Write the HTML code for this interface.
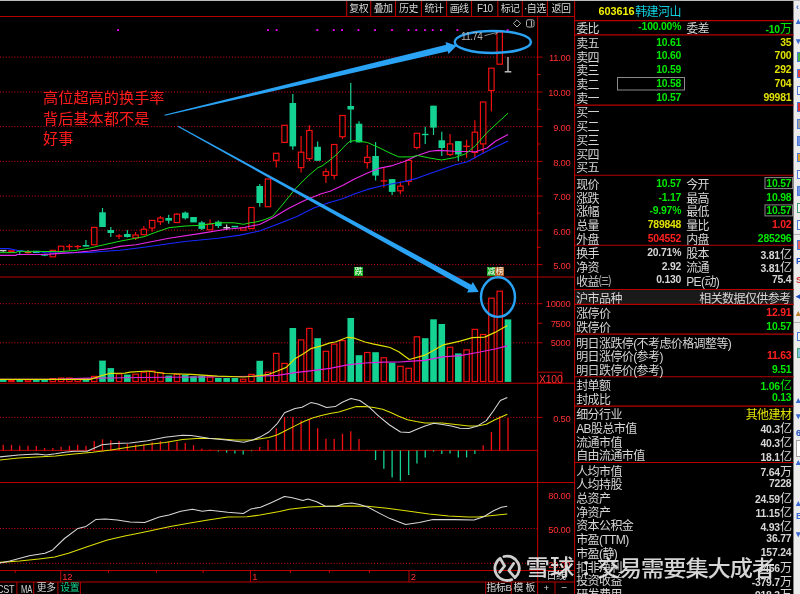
<!DOCTYPE html>
<html><head><meta charset="utf-8"><style>
html,body{margin:0;padding:0;background:#000;width:800px;height:594px;overflow:hidden}
body{position:relative;font-family:"Liberation Sans","Noto Sans CJK SC",sans-serif}
.t{position:absolute;white-space:nowrap;line-height:1.2;font-family:"Liberation Sans","Noto Sans CJK SC",sans-serif;letter-spacing:-0.6px}
.n{letter-spacing:0}
.c{text-align:center}
</style></head><body>
<svg width="800" height="594" viewBox="0 0 800 594" style="position:absolute;left:0;top:0"><rect x="0" y="0" width="800" height="1" fill="#bcbcbc" stroke="none" stroke-width="1" />
<rect x="793.5" y="1" width="6.5" height="593" fill="#ececec" stroke="none" stroke-width="1" />
<line x1="793.5" y1="1" x2="793.5" y2="594" stroke="#8a8a8a" stroke-width="0.8" />
<line x1="0" y1="57.1" x2="537.5" y2="57.1" stroke="#d8001a" stroke-width="1" stroke-dasharray="1 1.9"/>
<line x1="0" y1="92" x2="537.5" y2="92" stroke="#d8001a" stroke-width="1" stroke-dasharray="1 1.9"/>
<line x1="0" y1="126.6" x2="537.5" y2="126.6" stroke="#d8001a" stroke-width="1" stroke-dasharray="1 1.9"/>
<line x1="0" y1="161.4" x2="537.5" y2="161.4" stroke="#d8001a" stroke-width="1" stroke-dasharray="1 1.9"/>
<line x1="0" y1="196.1" x2="537.5" y2="196.1" stroke="#d8001a" stroke-width="1" stroke-dasharray="1 1.9"/>
<line x1="0" y1="230.2" x2="537.5" y2="230.2" stroke="#d8001a" stroke-width="1" stroke-dasharray="1 1.9"/>
<line x1="0" y1="264.6" x2="537.5" y2="264.6" stroke="#d8001a" stroke-width="1" stroke-dasharray="1 1.9"/>
<line x1="0" y1="303.7" x2="537.5" y2="303.7" stroke="#d8001a" stroke-width="1" stroke-dasharray="1 1.9"/>
<line x1="0" y1="342.8" x2="537.5" y2="342.8" stroke="#d8001a" stroke-width="1" stroke-dasharray="1 1.9"/>
<line x1="0" y1="417.4" x2="537.5" y2="417.4" stroke="#d8001a" stroke-width="1" stroke-dasharray="1 1.9"/>
<line x1="0" y1="528.5" x2="537.5" y2="528.5" stroke="#d8001a" stroke-width="1" stroke-dasharray="1 1.9"/>
<line x1="0" y1="563.3" x2="537.5" y2="563.3" stroke="#d8001a" stroke-width="1" stroke-dasharray="1 1.9"/>
<line x1="0" y1="16.5" x2="574.6" y2="16.5" stroke="#b80000" stroke-width="1.1" />
<line x1="0" y1="277" x2="574.6" y2="277" stroke="#b80000" stroke-width="1.1" />
<line x1="0" y1="383.3" x2="574.6" y2="383.3" stroke="#b80000" stroke-width="1.1" />
<line x1="0" y1="482.5" x2="574.6" y2="482.5" stroke="#b80000" stroke-width="1.1" />
<line x1="0" y1="570.5" x2="574.6" y2="570.5" stroke="#b80000" stroke-width="1.1" />
<line x1="0" y1="582" x2="574.6" y2="582" stroke="#b80000" stroke-width="1.1" />
<line x1="0" y1="450.4" x2="537.5" y2="450.4" stroke="#b80000" stroke-width="1" />
<line x1="537.6" y1="16.5" x2="537.6" y2="594" stroke="#b80000" stroke-width="1.1" />
<line x1="574.6" y1="1" x2="574.6" y2="594" stroke="#b80000" stroke-width="1.1" />
<line x1="346.7" y1="1" x2="346.7" y2="16.5" stroke="#b80000" stroke-width="1.1" />
<line x1="370.7" y1="1" x2="370.7" y2="16.5" stroke="#b80000" stroke-width="1.1" />
<line x1="395.5" y1="1" x2="395.5" y2="16.5" stroke="#b80000" stroke-width="1.1" />
<line x1="421.4" y1="1" x2="421.4" y2="16.5" stroke="#b80000" stroke-width="1.1" />
<line x1="446.6" y1="1" x2="446.6" y2="16.5" stroke="#b80000" stroke-width="1.1" />
<line x1="471.5" y1="1" x2="471.5" y2="16.5" stroke="#b80000" stroke-width="1.1" />
<line x1="497.8" y1="1" x2="497.8" y2="16.5" stroke="#b80000" stroke-width="1.1" />
<line x1="522.3" y1="1" x2="522.3" y2="16.5" stroke="#b80000" stroke-width="1.1" />
<line x1="547.4" y1="1" x2="547.4" y2="16.5" stroke="#b80000" stroke-width="1.1" />
<line x1="537.6" y1="57.1" x2="542.5" y2="57.1" stroke="#b80000" stroke-width="1" />
<line x1="537.6" y1="92" x2="542.5" y2="92" stroke="#b80000" stroke-width="1" />
<line x1="537.6" y1="126.6" x2="542.5" y2="126.6" stroke="#b80000" stroke-width="1" />
<line x1="537.6" y1="161.4" x2="542.5" y2="161.4" stroke="#b80000" stroke-width="1" />
<line x1="537.6" y1="196.1" x2="542.5" y2="196.1" stroke="#b80000" stroke-width="1" />
<line x1="537.6" y1="230.2" x2="542.5" y2="230.2" stroke="#b80000" stroke-width="1" />
<line x1="537.6" y1="264.6" x2="542.5" y2="264.6" stroke="#b80000" stroke-width="1" />
<line x1="537.6" y1="74.5" x2="540.5" y2="74.5" stroke="#b80000" stroke-width="1" />
<line x1="537.6" y1="109.3" x2="540.5" y2="109.3" stroke="#b80000" stroke-width="1" />
<line x1="537.6" y1="144" x2="540.5" y2="144" stroke="#b80000" stroke-width="1" />
<line x1="537.6" y1="178.7" x2="540.5" y2="178.7" stroke="#b80000" stroke-width="1" />
<line x1="537.6" y1="213.1" x2="540.5" y2="213.1" stroke="#b80000" stroke-width="1" />
<line x1="537.6" y1="247.4" x2="540.5" y2="247.4" stroke="#b80000" stroke-width="1" />
<line x1="537.6" y1="303.7" x2="542.5" y2="303.7" stroke="#b80000" stroke-width="1" />
<line x1="537.6" y1="323.2" x2="542.5" y2="323.2" stroke="#b80000" stroke-width="1" />
<line x1="537.6" y1="342.8" x2="542.5" y2="342.8" stroke="#b80000" stroke-width="1" />
<line x1="537.6" y1="417.4" x2="542.5" y2="417.4" stroke="#b80000" stroke-width="1" />
<rect x="537.6" y="372.2" width="24.2" height="11" fill="none" stroke="#b80000" stroke-width="1" />
<line x1="15.2" y1="570.5" x2="15.2" y2="573" stroke="#b80000" stroke-width="1" />
<line x1="108.4" y1="570.5" x2="108.4" y2="573" stroke="#b80000" stroke-width="1" />
<line x1="156.4" y1="570.5" x2="156.4" y2="573" stroke="#b80000" stroke-width="1" />
<line x1="203.2" y1="570.5" x2="203.2" y2="573" stroke="#b80000" stroke-width="1" />
<line x1="290.3" y1="570.5" x2="290.3" y2="573" stroke="#b80000" stroke-width="1" />
<line x1="329.3" y1="570.5" x2="329.3" y2="573" stroke="#b80000" stroke-width="1" />
<line x1="369.4" y1="570.5" x2="369.4" y2="573" stroke="#b80000" stroke-width="1" />
<line x1="60.7" y1="570.5" x2="60.7" y2="582" stroke="#b80000" stroke-width="1" />
<line x1="250.5" y1="570.5" x2="250.5" y2="582" stroke="#b80000" stroke-width="1" />
<line x1="409" y1="570.5" x2="409" y2="582" stroke="#b80000" stroke-width="1" />
<line x1="16.9" y1="582" x2="16.9" y2="594" stroke="#b80000" stroke-width="1" />
<line x1="33.7" y1="582" x2="33.7" y2="594" stroke="#b80000" stroke-width="1" />
<line x1="57.9" y1="582" x2="57.9" y2="594" stroke="#b80000" stroke-width="1" />
<line x1="80.4" y1="582" x2="80.4" y2="594" stroke="#b80000" stroke-width="1" />
<line x1="485.7" y1="582" x2="485.7" y2="594" stroke="#b80000" stroke-width="1" />
<line x1="511.3" y1="582" x2="511.3" y2="594" stroke="#b80000" stroke-width="1" />
<line x1="555" y1="582" x2="555" y2="594" stroke="#b80000" stroke-width="1" />
<line x1="3.2" y1="250.6" x2="3.2" y2="251.8" stroke="#d0d0d0" stroke-width="1.2" />
<line x1="-0.1" y1="250.6" x2="6.5" y2="250.6" stroke="#d0d0d0" stroke-width="1.4" />
<rect x="8.78" y="250.8" width="5.4" height="1.1" fill="#000" stroke="#f01010" stroke-width="1.2" />
<line x1="19.75" y1="250.4" x2="19.75" y2="254" stroke="#14d292" stroke-width="1.2" />
<rect x="16.45" y="250.4" width="6.6" height="1.2" fill="#14d292" stroke="none" stroke-width="1" />
<line x1="28.03" y1="250" x2="28.03" y2="253.2" stroke="#e05a20" stroke-width="1.2" />
<rect x="24.73" y="252" width="6.6" height="1.2" fill="#e05a20" stroke="none" stroke-width="1" />
<rect x="33" y="250.8" width="6.6" height="2.2" fill="#30b8e0" stroke="none" stroke-width="1" />
<line x1="44.58" y1="254.4" x2="44.58" y2="256.2" stroke="#14d292" stroke-width="1.2" />
<rect x="41.28" y="254.4" width="6.6" height="1.3" fill="#14d292" stroke="none" stroke-width="1" />
<rect x="50.15" y="250.4" width="5.4" height="6.4" fill="#000" stroke="#f01010" stroke-width="1.2" />
<rect x="58.43" y="246.2" width="5.4" height="5.6" fill="#000" stroke="#f01010" stroke-width="1.2" />
<line x1="69.4" y1="244" x2="69.4" y2="250" stroke="#f01010" stroke-width="1.2" />
<line x1="66.1" y1="246.5" x2="72.7" y2="246.5" stroke="#f01010" stroke-width="1.4" />
<line x1="77.68" y1="245" x2="77.68" y2="249" stroke="#f01010" stroke-width="1.2" />
<line x1="74.38" y1="246.5" x2="80.98" y2="246.5" stroke="#f01010" stroke-width="1.4" />
<line x1="85.95" y1="240" x2="85.95" y2="246.6" stroke="#14d292" stroke-width="1.2" />
<rect x="82.65" y="245" width="6.6" height="1.6" fill="#14d292" stroke="none" stroke-width="1" />
<rect x="91.53" y="227.4" width="5.4" height="17.4" fill="#000" stroke="#f01010" stroke-width="1.2" />
<line x1="102.5" y1="208" x2="102.5" y2="227" stroke="#14d292" stroke-width="1.2" />
<rect x="99.2" y="212.3" width="6.6" height="14.7" fill="#14d292" stroke="none" stroke-width="1" />
<line x1="110.78" y1="227" x2="110.78" y2="237" stroke="#14d292" stroke-width="1.2" />
<rect x="107.48" y="230" width="6.6" height="3" fill="#14d292" stroke="none" stroke-width="1" />
<line x1="119.05" y1="234" x2="119.05" y2="239" stroke="#f01010" stroke-width="1.2" />
<line x1="115.75" y1="236" x2="122.35" y2="236" stroke="#f01010" stroke-width="1.4" />
<line x1="127.33" y1="230" x2="127.33" y2="237.5" stroke="#14d292" stroke-width="1.2" />
<rect x="124.03" y="234" width="6.6" height="3" fill="#14d292" stroke="none" stroke-width="1" />
<line x1="135.6" y1="232" x2="135.6" y2="235" stroke="#f01010" stroke-width="1.2" />
<line x1="135.6" y1="238" x2="135.6" y2="240" stroke="#f01010" stroke-width="1.2" />
<rect x="132.9" y="235" width="5.4" height="3" fill="#000" stroke="#f01010" stroke-width="1.2" />
<line x1="143.88" y1="226" x2="143.88" y2="229.3" stroke="#f01010" stroke-width="1.2" />
<line x1="143.88" y1="234.7" x2="143.88" y2="235" stroke="#f01010" stroke-width="1.2" />
<rect x="141.17" y="229.3" width="5.4" height="5.4" fill="#000" stroke="#f01010" stroke-width="1.2" />
<line x1="152.15" y1="228" x2="152.15" y2="231.8" stroke="#f01010" stroke-width="1.2" />
<rect x="149.45" y="220.4" width="5.4" height="7.6" fill="#000" stroke="#f01010" stroke-width="1.2" />
<line x1="160.42" y1="216" x2="160.42" y2="218" stroke="#f01010" stroke-width="1.2" />
<line x1="160.42" y1="221.7" x2="160.42" y2="225" stroke="#f01010" stroke-width="1.2" />
<rect x="157.72" y="218" width="5.4" height="3.7" fill="#000" stroke="#f01010" stroke-width="1.2" />
<line x1="168.7" y1="214.7" x2="168.7" y2="223.7" stroke="#14d292" stroke-width="1.2" />
<rect x="165.4" y="218" width="6.6" height="2.7" fill="#14d292" stroke="none" stroke-width="1" />
<line x1="176.97" y1="213" x2="176.97" y2="214.2" stroke="#f01010" stroke-width="1.2" />
<rect x="174.27" y="214.2" width="5.4" height="8.3" fill="#000" stroke="#f01010" stroke-width="1.2" />
<line x1="185.25" y1="211.5" x2="185.25" y2="219.6" stroke="#14d292" stroke-width="1.2" />
<rect x="181.95" y="212.6" width="6.6" height="5.7" fill="#14d292" stroke="none" stroke-width="1" />
<rect x="190.22" y="217" width="6.6" height="5.4" fill="#14d292" stroke="none" stroke-width="1" />
<line x1="201.8" y1="221" x2="201.8" y2="230" stroke="#14d292" stroke-width="1.2" />
<rect x="198.5" y="222.4" width="6.6" height="6.5" fill="#14d292" stroke="none" stroke-width="1" />
<line x1="210.07" y1="219.6" x2="210.07" y2="224" stroke="#f01010" stroke-width="1.2" />
<rect x="207.37" y="224" width="5.4" height="5.8" fill="#000" stroke="#f01010" stroke-width="1.2" />
<line x1="218.35" y1="220.5" x2="218.35" y2="228" stroke="#14d292" stroke-width="1.2" />
<rect x="215.05" y="221.7" width="6.6" height="4.3" fill="#14d292" stroke="none" stroke-width="1" />
<line x1="226.62" y1="224.5" x2="226.62" y2="230" stroke="#d0d0d0" stroke-width="1.2" />
<line x1="223.32" y1="227.7" x2="229.93" y2="227.7" stroke="#d0d0d0" stroke-width="1.4" />
<rect x="231.6" y="225.8" width="6.6" height="1.6" fill="#14d292" stroke="none" stroke-width="1" />
<rect x="240.47" y="227.7" width="5.4" height="2.5" fill="#000" stroke="#f01010" stroke-width="1.2" />
<rect x="248.75" y="207.5" width="5.4" height="21.1" fill="#000" stroke="#f01010" stroke-width="1.2" />
<line x1="259.73" y1="184" x2="259.73" y2="206.7" stroke="#14d292" stroke-width="1.2" />
<rect x="256.43" y="186" width="6.6" height="17" fill="#14d292" stroke="none" stroke-width="1" />
<rect x="265.3" y="179" width="5.4" height="27.7" fill="#000" stroke="#f01010" stroke-width="1.2" />
<line x1="276.27" y1="160.3" x2="276.27" y2="167.6" stroke="#f01010" stroke-width="1.2" />
<rect x="273.57" y="153.3" width="5.4" height="7" fill="#000" stroke="#f01010" stroke-width="1.2" />
<rect x="281.85" y="125.3" width="5.4" height="17.1" fill="#000" stroke="#f01010" stroke-width="1.2" />
<line x1="292.82" y1="94" x2="292.82" y2="149.7" stroke="#14d292" stroke-width="1.2" />
<rect x="289.52" y="103" width="6.6" height="43.4" fill="#14d292" stroke="none" stroke-width="1" />
<line x1="301.1" y1="135.9" x2="301.1" y2="152.2" stroke="#f01010" stroke-width="1.2" />
<line x1="301.1" y1="167.6" x2="301.1" y2="172.5" stroke="#f01010" stroke-width="1.2" />
<rect x="298.4" y="152.2" width="5.4" height="15.4" fill="#000" stroke="#f01010" stroke-width="1.2" />
<line x1="309.38" y1="125.3" x2="309.38" y2="130.5" stroke="#f01010" stroke-width="1.2" />
<line x1="309.38" y1="158.6" x2="309.38" y2="161" stroke="#f01010" stroke-width="1.2" />
<rect x="306.68" y="130.5" width="5.4" height="28.1" fill="#000" stroke="#f01010" stroke-width="1.2" />
<line x1="317.65" y1="141.5" x2="317.65" y2="160.8" stroke="#14d292" stroke-width="1.2" />
<rect x="314.35" y="146.8" width="6.6" height="14" fill="#14d292" stroke="none" stroke-width="1" />
<line x1="325.93" y1="168.5" x2="325.93" y2="171.7" stroke="#f01010" stroke-width="1.2" />
<line x1="325.93" y1="175.4" x2="325.93" y2="183" stroke="#f01010" stroke-width="1.2" />
<rect x="323.23" y="171.7" width="5.4" height="3.7" fill="#000" stroke="#f01010" stroke-width="1.2" />
<line x1="334.2" y1="175.4" x2="334.2" y2="179.2" stroke="#f01010" stroke-width="1.2" />
<rect x="331.5" y="144.5" width="5.4" height="30.9" fill="#000" stroke="#f01010" stroke-width="1.2" />
<line x1="342.48" y1="136.7" x2="342.48" y2="139" stroke="#f01010" stroke-width="1.2" />
<rect x="339.78" y="115.5" width="5.4" height="21.2" fill="#000" stroke="#f01010" stroke-width="1.2" />
<line x1="350.75" y1="83" x2="350.75" y2="143" stroke="#14d292" stroke-width="1.2" />
<rect x="347.45" y="106" width="6.6" height="3.5" fill="#14d292" stroke="none" stroke-width="1" />
<line x1="359.02" y1="121.2" x2="359.02" y2="142.4" stroke="#14d292" stroke-width="1.2" />
<rect x="355.72" y="123.7" width="6.6" height="18.7" fill="#14d292" stroke="none" stroke-width="1" />
<line x1="367.3" y1="144.9" x2="367.3" y2="157.3" stroke="#f01010" stroke-width="1.2" />
<line x1="367.3" y1="162.6" x2="367.3" y2="168.5" stroke="#f01010" stroke-width="1.2" />
<rect x="364.6" y="157.3" width="5.4" height="5.3" fill="#000" stroke="#f01010" stroke-width="1.2" />
<line x1="375.57" y1="142.1" x2="375.57" y2="180.5" stroke="#14d292" stroke-width="1.2" />
<rect x="372.27" y="156" width="6.6" height="19.6" fill="#14d292" stroke="none" stroke-width="1" />
<line x1="383.85" y1="167.9" x2="383.85" y2="187.6" stroke="#f01010" stroke-width="1.2" />
<line x1="380.55" y1="180.9" x2="387.15" y2="180.9" stroke="#f01010" stroke-width="1.4" />
<line x1="392.12" y1="179.1" x2="392.12" y2="195" stroke="#14d292" stroke-width="1.2" />
<rect x="388.82" y="179.1" width="6.6" height="12.8" fill="#14d292" stroke="none" stroke-width="1" />
<line x1="400.4" y1="181.6" x2="400.4" y2="186.1" stroke="#f01010" stroke-width="1.2" />
<line x1="400.4" y1="190.8" x2="400.4" y2="194.3" stroke="#f01010" stroke-width="1.2" />
<rect x="397.7" y="186.1" width="5.4" height="4.7" fill="#000" stroke="#f01010" stroke-width="1.2" />
<line x1="408.68" y1="181.3" x2="408.68" y2="185.5" stroke="#f01010" stroke-width="1.2" />
<rect x="405.98" y="160.4" width="5.4" height="20.9" fill="#000" stroke="#f01010" stroke-width="1.2" />
<line x1="416.95" y1="147.5" x2="416.95" y2="149.5" stroke="#f01010" stroke-width="1.2" />
<rect x="414.25" y="133.3" width="5.4" height="14.2" fill="#000" stroke="#f01010" stroke-width="1.2" />
<line x1="425.23" y1="126.8" x2="425.23" y2="143.9" stroke="#14d292" stroke-width="1.2" />
<line x1="421.93" y1="134.5" x2="428.53" y2="134.5" stroke="#14d292" stroke-width="1.4" />
<line x1="433.5" y1="105.7" x2="433.5" y2="135" stroke="#14d292" stroke-width="1.2" />
<rect x="430.2" y="105.7" width="6.6" height="21.9" fill="#14d292" stroke="none" stroke-width="1" />
<line x1="441.78" y1="131.7" x2="441.78" y2="156" stroke="#14d292" stroke-width="1.2" />
<rect x="438.48" y="140.3" width="6.6" height="7.7" fill="#14d292" stroke="none" stroke-width="1" />
<line x1="450.05" y1="134.1" x2="450.05" y2="143.9" stroke="#f01010" stroke-width="1.2" />
<line x1="450.05" y1="154.5" x2="450.05" y2="156" stroke="#f01010" stroke-width="1.2" />
<rect x="447.35" y="143.9" width="5.4" height="10.6" fill="#000" stroke="#f01010" stroke-width="1.2" />
<line x1="458.32" y1="141.1" x2="458.32" y2="161" stroke="#14d292" stroke-width="1.2" />
<rect x="455.02" y="141.1" width="6.6" height="13.4" fill="#14d292" stroke="none" stroke-width="1" />
<line x1="466.6" y1="139.8" x2="466.6" y2="157.7" stroke="#f01010" stroke-width="1.2" />
<line x1="463.3" y1="146.3" x2="469.9" y2="146.3" stroke="#f01010" stroke-width="1.4" />
<line x1="474.88" y1="120.3" x2="474.88" y2="132.2" stroke="#f01010" stroke-width="1.2" />
<line x1="474.88" y1="152.4" x2="474.88" y2="158.5" stroke="#f01010" stroke-width="1.2" />
<rect x="472.18" y="132.2" width="5.4" height="20.2" fill="#000" stroke="#f01010" stroke-width="1.2" />
<line x1="483.15" y1="143.9" x2="483.15" y2="153.7" stroke="#f01010" stroke-width="1.2" />
<rect x="480.45" y="102" width="5.4" height="41.9" fill="#000" stroke="#f01010" stroke-width="1.2" />
<line x1="491.43" y1="90.5" x2="491.43" y2="111.4" stroke="#f01010" stroke-width="1.2" />
<rect x="488.73" y="68.2" width="5.4" height="22.3" fill="#000" stroke="#f01010" stroke-width="1.2" />
<rect x="497" y="32.1" width="5.4" height="32.1" fill="#000" stroke="#f01010" stroke-width="1.2" />
<line x1="507.98" y1="57" x2="507.98" y2="71.8" stroke="#c8c8c8" stroke-width="1.3" />
<line x1="504.68" y1="71.8" x2="511.28" y2="71.8" stroke="#c8c8c8" stroke-width="1.4" />
<polyline fill="none" stroke="#1828ff" stroke-width="1.1" stroke-linejoin="round" points="0,248.5 9,248.6 12,249.3 17,250.4 25,251.2 40,251.6 45,252.6 60,253 90,252.4 105,251.3 120,250.2 130,249 144,247.2 165,244.3 185,241.5 218,238.3 240,235.1 259.5,231 280.6,222.9 296.9,216.4 313.2,208.3 329.4,202.5 340,199.5 345.7,197.5 355,193.75 367.5,189.4 380,186.25 392.5,183.75 405,181.4 417.5,178.1 430,173.5 454.4,165 467.4,161.8 482,153.7 495,147.2 508,141"/>
<polyline fill="none" stroke="#e828e8" stroke-width="1.1" stroke-linejoin="round" points="0,255.4 16,255.4 17,254.5 40,254.5 50,254.1 60,253.4 75,252.5 90,251 110,248.5 120,246.4 136,244.8 169,238.3 201,233.4 226,229.3 243,227.7 250,226.3 259.5,224.5 272.5,218 288.8,208.3 305,200.2 321.3,193.7 330,191.25 342.5,185.6 355,178.75 367.5,173.1 380,168.1 392.5,165.6 405,161.25 417.5,155.6 430,151.25 438.2,150.4 454.4,151.2 475.6,151.7 487,148 495,141.5 508,134.4"/>
<polyline fill="none" stroke="#18e018" stroke-width="1.0" stroke-linejoin="round" points="0,252.7 16,252.6 18,251.3 45,251.5 60,251.6 75,250.5 90,248 105,244.5 120,241.2 130,239.3 144,236.7 155,232.5 169,227.7 185,226 201,225.3 218,222.8 234,222.8 243.6,224.3 250,222.8 256,222 265,219.5 272.5,216.4 282.3,205 295.3,188.8 308.3,175.8 318,167.6 322,166 330,160 337.5,153.75 345.7,144.9 350,141.25 355,140.6 367.5,142.5 380,148.1 390,153.1 398.75,156.9 411.25,156.9 417.5,155.5 430,158.1 441.4,160 454.4,157.7 465.8,153.7 475.6,145.5 487,132.5 495,125.2 508,113.2"/>
<rect x="117.1" y="29.2" width="1.8" height="1.8" fill="#ff00ff" stroke="none" stroke-width="1" />
<rect x="267" y="29.2" width="1.8" height="1.8" fill="#ff00ff" stroke="none" stroke-width="1" />
<rect x="275.7" y="29.2" width="1.8" height="1.8" fill="#ff00ff" stroke="none" stroke-width="1" />
<rect x="316.4" y="29.2" width="1.8" height="1.8" fill="#ff00ff" stroke="none" stroke-width="1" />
<rect x="332.9" y="29.2" width="1.8" height="1.8" fill="#ff00ff" stroke="none" stroke-width="1" />
<rect x="341.1" y="29.2" width="1.8" height="1.8" fill="#ff00ff" stroke="none" stroke-width="1" />
<rect x="357.6" y="29.2" width="1.8" height="1.8" fill="#ff00ff" stroke="none" stroke-width="1" />
<rect x="374.1" y="29.2" width="1.8" height="1.8" fill="#ff00ff" stroke="none" stroke-width="1" />
<rect x="391.1" y="29.2" width="1.8" height="1.8" fill="#ff00ff" stroke="none" stroke-width="1" />
<rect x="407.6" y="29.2" width="1.8" height="1.8" fill="#ff00ff" stroke="none" stroke-width="1" />
<rect x="415.3" y="29.2" width="1.8" height="1.8" fill="#ff00ff" stroke="none" stroke-width="1" />
<rect x="424.1" y="29.2" width="1.8" height="1.8" fill="#ff00ff" stroke="none" stroke-width="1" />
<rect x="431.8" y="29.2" width="1.8" height="1.8" fill="#ff00ff" stroke="none" stroke-width="1" />
<rect x="440.1" y="29.2" width="1.8" height="1.8" fill="#ff00ff" stroke="none" stroke-width="1" />
<rect x="456.5" y="29.2" width="1.8" height="1.8" fill="#ff00ff" stroke="none" stroke-width="1" />
<rect x="506.7" y="29.2" width="1.8" height="1.8" fill="#ff00ff" stroke="none" stroke-width="1" />
<rect x="-0.1" y="379.5" width="6.6" height="2.4" fill="#14d292" stroke="none" stroke-width="1" />
<rect x="8.78" y="380.4" width="5.4" height="1.1" fill="#000" stroke="#f01010" stroke-width="1.2" />
<rect x="16.45" y="379.5" width="6.6" height="2.4" fill="#14d292" stroke="none" stroke-width="1" />
<rect x="25.33" y="379.9" width="5.4" height="1.6" fill="#000" stroke="#f01010" stroke-width="1.2" />
<rect x="33" y="379.5" width="6.6" height="2.4" fill="#14d292" stroke="none" stroke-width="1" />
<rect x="41.28" y="379.5" width="6.6" height="2.4" fill="#14d292" stroke="none" stroke-width="1" />
<rect x="50.15" y="378.6" width="5.4" height="2.9" fill="#000" stroke="#f01010" stroke-width="1.2" />
<rect x="58.43" y="378.1" width="5.4" height="3.4" fill="#000" stroke="#f01010" stroke-width="1.2" />
<rect x="66.7" y="378.1" width="5.4" height="3.4" fill="#000" stroke="#f01010" stroke-width="1.2" />
<rect x="74.98" y="378.6" width="5.4" height="2.9" fill="#000" stroke="#f01010" stroke-width="1.2" />
<rect x="82.65" y="378.1" width="6.6" height="3.8" fill="#14d292" stroke="none" stroke-width="1" />
<rect x="91.53" y="376.4" width="5.4" height="5.1" fill="#000" stroke="#f01010" stroke-width="1.2" />
<rect x="99.2" y="360.6" width="6.6" height="21.3" fill="#14d292" stroke="none" stroke-width="1" />
<rect x="107.48" y="368.1" width="6.6" height="13.8" fill="#14d292" stroke="none" stroke-width="1" />
<rect x="116.35" y="373.9" width="5.4" height="7.6" fill="#000" stroke="#f01010" stroke-width="1.2" />
<rect x="124.03" y="374.6" width="6.6" height="7.3" fill="#14d292" stroke="none" stroke-width="1" />
<rect x="132.9" y="374.2" width="5.4" height="7.3" fill="#000" stroke="#f01010" stroke-width="1.2" />
<rect x="141.17" y="372.2" width="5.4" height="9.3" fill="#000" stroke="#f01010" stroke-width="1.2" />
<rect x="149.45" y="371" width="5.4" height="10.5" fill="#000" stroke="#f01010" stroke-width="1.2" />
<rect x="157.72" y="372.7" width="5.4" height="8.8" fill="#000" stroke="#f01010" stroke-width="1.2" />
<rect x="165.4" y="375.6" width="6.6" height="6.3" fill="#14d292" stroke="none" stroke-width="1" />
<rect x="174.27" y="374.4" width="5.4" height="7.1" fill="#000" stroke="#f01010" stroke-width="1.2" />
<rect x="181.95" y="375" width="6.6" height="6.9" fill="#14d292" stroke="none" stroke-width="1" />
<rect x="190.22" y="376.2" width="6.6" height="5.7" fill="#14d292" stroke="none" stroke-width="1" />
<rect x="198.5" y="375.6" width="6.6" height="6.3" fill="#14d292" stroke="none" stroke-width="1" />
<rect x="207.37" y="377" width="5.4" height="4.5" fill="#000" stroke="#f01010" stroke-width="1.2" />
<rect x="215.05" y="378" width="6.6" height="3.9" fill="#14d292" stroke="none" stroke-width="1" />
<rect x="223.32" y="378" width="6.6" height="3.9" fill="#14d292" stroke="none" stroke-width="1" />
<rect x="231.6" y="378" width="6.6" height="3.9" fill="#14d292" stroke="none" stroke-width="1" />
<rect x="240.47" y="379.2" width="5.4" height="2.3" fill="#000" stroke="#f01010" stroke-width="1.2" />
<rect x="248.75" y="374.4" width="5.4" height="7.1" fill="#000" stroke="#f01010" stroke-width="1.2" />
<rect x="256.43" y="360.8" width="6.6" height="21.1" fill="#14d292" stroke="none" stroke-width="1" />
<rect x="265.3" y="372.2" width="5.4" height="9.3" fill="#000" stroke="#f01010" stroke-width="1.2" />
<rect x="273.57" y="353.4" width="5.4" height="28.1" fill="#000" stroke="#f01010" stroke-width="1.2" />
<rect x="281.85" y="363.4" width="5.4" height="18.1" fill="#000" stroke="#f01010" stroke-width="1.2" />
<rect x="289.52" y="328" width="6.6" height="53.9" fill="#14d292" stroke="none" stroke-width="1" />
<rect x="298.4" y="339.9" width="5.4" height="41.6" fill="#000" stroke="#f01010" stroke-width="1.2" />
<rect x="306.68" y="328.4" width="5.4" height="53.1" fill="#000" stroke="#f01010" stroke-width="1.2" />
<rect x="314.35" y="338.2" width="6.6" height="43.7" fill="#14d292" stroke="none" stroke-width="1" />
<rect x="323.23" y="351.3" width="5.4" height="30.2" fill="#000" stroke="#f01010" stroke-width="1.2" />
<rect x="331.5" y="344.1" width="5.4" height="37.4" fill="#000" stroke="#f01010" stroke-width="1.2" />
<rect x="339.78" y="340.6" width="5.4" height="40.9" fill="#000" stroke="#f01010" stroke-width="1.2" />
<rect x="347.45" y="318" width="6.6" height="63.9" fill="#14d292" stroke="none" stroke-width="1" />
<rect x="355.72" y="355.2" width="6.6" height="26.7" fill="#14d292" stroke="none" stroke-width="1" />
<rect x="364.6" y="352.5" width="5.4" height="29" fill="#000" stroke="#f01010" stroke-width="1.2" />
<rect x="372.27" y="352.2" width="6.6" height="29.7" fill="#14d292" stroke="none" stroke-width="1" />
<rect x="381.15" y="357.8" width="5.4" height="23.7" fill="#000" stroke="#f01010" stroke-width="1.2" />
<rect x="388.82" y="362.8" width="6.6" height="19.1" fill="#14d292" stroke="none" stroke-width="1" />
<rect x="397.7" y="366.3" width="5.4" height="15.2" fill="#000" stroke="#f01010" stroke-width="1.2" />
<rect x="405.98" y="368.3" width="5.4" height="13.2" fill="#000" stroke="#f01010" stroke-width="1.2" />
<rect x="414.25" y="336.8" width="5.4" height="44.7" fill="#000" stroke="#f01010" stroke-width="1.2" />
<rect x="421.93" y="338.2" width="6.6" height="43.7" fill="#14d292" stroke="none" stroke-width="1" />
<rect x="430.2" y="319.3" width="6.6" height="62.6" fill="#14d292" stroke="none" stroke-width="1" />
<rect x="438.48" y="324" width="6.6" height="57.9" fill="#14d292" stroke="none" stroke-width="1" />
<rect x="447.35" y="347.3" width="5.4" height="34.2" fill="#000" stroke="#f01010" stroke-width="1.2" />
<rect x="455.02" y="353.4" width="6.6" height="28.5" fill="#14d292" stroke="none" stroke-width="1" />
<rect x="463.9" y="349.9" width="5.4" height="31.6" fill="#000" stroke="#f01010" stroke-width="1.2" />
<rect x="472.18" y="329.4" width="5.4" height="52.1" fill="#000" stroke="#f01010" stroke-width="1.2" />
<rect x="480.45" y="334.5" width="5.4" height="47" fill="#000" stroke="#f01010" stroke-width="1.2" />
<rect x="488.73" y="298.2" width="5.4" height="83.3" fill="#000" stroke="#f01010" stroke-width="1.2" />
<rect x="497" y="291.2" width="5.4" height="90.3" fill="#000" stroke="#f01010" stroke-width="1.2" />
<rect x="504.68" y="319.4" width="6.6" height="62.5" fill="#14d292" stroke="none" stroke-width="1" />
<polyline fill="none" stroke="#e020e0" stroke-width="1.2" stroke-linejoin="round" points="0,379.3 60,379 90,378.1 110,378 140,377.5 200,377 260,376.2 277.5,375.3 295,372.7 312.5,370.6 330,368.3 347.5,364.8 365,363 382.6,362.2 400,362 407.5,361.3 425,360.4 442.5,356.9 460,355.7 477.5,352.5 495,349 507.3,345.9"/>
<polyline fill="none" stroke="#e0e000" stroke-width="1.2" stroke-linejoin="round" points="0,379.3 90,379.3 95,377.9 102,375.5 110,373.4 125,373.2 130,372.2 147.5,371 165,373.5 191.3,374.4 217.6,376.2 243.8,377 260,375.7 268.8,374.3 277.5,371 286.3,367.4 295,358.7 303.8,353.4 310.8,348.7 321.3,345.9 330,342.9 335.3,342 347.5,337.3 354.6,338.2 365,342 373.8,344.1 382.6,345.9 390,347.5 398.75,351.7 409.3,359.5 425,355.2 442.5,345.2 460,341.2 472.3,337.7 484.6,337.1 495,332.4 507.3,325.4"/>
<line x1="3.2" y1="450.4" x2="3.2" y2="444.8" stroke="#f01010" stroke-width="1.3" />
<line x1="11.48" y1="450.4" x2="11.48" y2="444.8" stroke="#f01010" stroke-width="1.3" />
<line x1="19.75" y1="450.4" x2="19.75" y2="445.7" stroke="#f01010" stroke-width="1.3" />
<line x1="28.03" y1="450.4" x2="28.03" y2="445.7" stroke="#f01010" stroke-width="1.3" />
<line x1="36.3" y1="450.4" x2="36.3" y2="446" stroke="#f01010" stroke-width="1.3" />
<line x1="44.58" y1="450.4" x2="44.58" y2="448" stroke="#f01010" stroke-width="1.3" />
<line x1="52.85" y1="450.4" x2="52.85" y2="448" stroke="#f01010" stroke-width="1.3" />
<line x1="61.13" y1="450.4" x2="61.13" y2="446.7" stroke="#f01010" stroke-width="1.3" />
<line x1="69.4" y1="450.4" x2="69.4" y2="445.7" stroke="#f01010" stroke-width="1.3" />
<line x1="77.68" y1="450.4" x2="77.68" y2="444.8" stroke="#f01010" stroke-width="1.3" />
<line x1="85.95" y1="450.4" x2="85.95" y2="445.7" stroke="#f01010" stroke-width="1.3" />
<line x1="94.23" y1="450.4" x2="94.23" y2="441" stroke="#f01010" stroke-width="1.3" />
<line x1="102.5" y1="450.4" x2="102.5" y2="439.3" stroke="#f01010" stroke-width="1.3" />
<line x1="110.78" y1="450.4" x2="110.78" y2="440.2" stroke="#f01010" stroke-width="1.3" />
<line x1="119.05" y1="450.4" x2="119.05" y2="441" stroke="#f01010" stroke-width="1.3" />
<line x1="127.33" y1="450.4" x2="127.33" y2="443.9" stroke="#f01010" stroke-width="1.3" />
<line x1="135.6" y1="450.4" x2="135.6" y2="444.6" stroke="#f01010" stroke-width="1.3" />
<line x1="143.88" y1="450.4" x2="143.88" y2="444.6" stroke="#f01010" stroke-width="1.3" />
<line x1="152.15" y1="450.4" x2="152.15" y2="442.2" stroke="#f01010" stroke-width="1.3" />
<line x1="160.42" y1="450.4" x2="160.42" y2="441.1" stroke="#f01010" stroke-width="1.3" />
<line x1="168.7" y1="450.4" x2="168.7" y2="442" stroke="#f01010" stroke-width="1.3" />
<line x1="176.97" y1="450.4" x2="176.97" y2="441.7" stroke="#f01010" stroke-width="1.3" />
<line x1="185.25" y1="450.4" x2="185.25" y2="442.9" stroke="#f01010" stroke-width="1.3" />
<line x1="193.53" y1="450.4" x2="193.53" y2="445.2" stroke="#f01010" stroke-width="1.3" />
<line x1="201.8" y1="450.4" x2="201.8" y2="448.7" stroke="#f01010" stroke-width="1.3" />
<line x1="210.07" y1="450.4" x2="210.07" y2="449.6" stroke="#f01010" stroke-width="1.3" />
<line x1="218.35" y1="450.4" x2="218.35" y2="451.6" stroke="#14d292" stroke-width="1.3" />
<line x1="226.62" y1="450.4" x2="226.62" y2="452.7" stroke="#14d292" stroke-width="1.3" />
<line x1="234.9" y1="450.4" x2="234.9" y2="453.4" stroke="#14d292" stroke-width="1.3" />
<line x1="243.18" y1="450.4" x2="243.18" y2="454.4" stroke="#14d292" stroke-width="1.3" />
<line x1="251.45" y1="450.4" x2="251.45" y2="451.2" stroke="#14d292" stroke-width="1.3" />
<line x1="259.73" y1="450.4" x2="259.73" y2="446.9" stroke="#f01010" stroke-width="1.3" />
<line x1="268" y1="450.4" x2="268" y2="439.9" stroke="#f01010" stroke-width="1.3" />
<line x1="276.27" y1="450.4" x2="276.27" y2="428.2" stroke="#f01010" stroke-width="1.3" />
<line x1="284.55" y1="450.4" x2="284.55" y2="417.1" stroke="#f01010" stroke-width="1.3" />
<line x1="292.82" y1="450.4" x2="292.82" y2="417.1" stroke="#f01010" stroke-width="1.3" />
<line x1="301.1" y1="450.4" x2="301.1" y2="420.6" stroke="#f01010" stroke-width="1.3" />
<line x1="309.38" y1="450.4" x2="309.38" y2="419.4" stroke="#f01010" stroke-width="1.3" />
<line x1="317.65" y1="450.4" x2="317.65" y2="428.2" stroke="#f01010" stroke-width="1.3" />
<line x1="325.93" y1="450.4" x2="325.93" y2="438.7" stroke="#f01010" stroke-width="1.3" />
<line x1="334.2" y1="450.4" x2="334.2" y2="439" stroke="#f01010" stroke-width="1.3" />
<line x1="342.48" y1="450.4" x2="342.48" y2="433.8" stroke="#f01010" stroke-width="1.3" />
<line x1="350.75" y1="450.4" x2="350.75" y2="431.2" stroke="#f01010" stroke-width="1.3" />
<line x1="359.02" y1="450.4" x2="359.02" y2="439" stroke="#f01010" stroke-width="1.3" />
<line x1="367.3" y1="450.4" x2="367.3" y2="449.7" stroke="#f01010" stroke-width="1.3" />
<line x1="375.57" y1="450.4" x2="375.57" y2="460" stroke="#14d292" stroke-width="1.3" />
<line x1="383.85" y1="450.4" x2="383.85" y2="468.8" stroke="#14d292" stroke-width="1.3" />
<line x1="392.12" y1="450.4" x2="392.12" y2="477.6" stroke="#14d292" stroke-width="1.3" />
<line x1="400.4" y1="450.4" x2="400.4" y2="480.7" stroke="#14d292" stroke-width="1.3" />
<line x1="408.68" y1="450.4" x2="408.68" y2="474.9" stroke="#14d292" stroke-width="1.3" />
<line x1="416.95" y1="450.4" x2="416.95" y2="463.6" stroke="#14d292" stroke-width="1.3" />
<line x1="425.23" y1="450.4" x2="425.23" y2="457.4" stroke="#14d292" stroke-width="1.3" />
<line x1="433.5" y1="450.4" x2="433.5" y2="451.6" stroke="#14d292" stroke-width="1.3" />
<line x1="441.78" y1="450.4" x2="441.78" y2="453.9" stroke="#14d292" stroke-width="1.3" />
<line x1="450.05" y1="450.4" x2="450.05" y2="453.4" stroke="#14d292" stroke-width="1.3" />
<line x1="458.32" y1="450.4" x2="458.32" y2="457.4" stroke="#14d292" stroke-width="1.3" />
<line x1="466.6" y1="450.4" x2="466.6" y2="457.4" stroke="#14d292" stroke-width="1.3" />
<line x1="474.88" y1="450.4" x2="474.88" y2="453.9" stroke="#14d292" stroke-width="1.3" />
<line x1="483.15" y1="450.4" x2="483.15" y2="445.2" stroke="#f01010" stroke-width="1.3" />
<line x1="491.43" y1="450.4" x2="491.43" y2="432" stroke="#f01010" stroke-width="1.3" />
<line x1="499.7" y1="450.4" x2="499.7" y2="416.3" stroke="#f01010" stroke-width="1.3" />
<line x1="507.98" y1="450.4" x2="507.98" y2="418" stroke="#f01010" stroke-width="1.3" />
<polyline fill="none" stroke="#e0e000" stroke-width="1.05" stroke-linejoin="round" points="0,460 18.5,458 37,456.9 55.5,455.9 74,454 92.6,452.2 111,450 130,446.9 147.5,444.6 165,442.5 182.5,439.6 200,438.2 217.5,438.7 235,439.9 252.5,439.9 268.8,437.6 277.5,434.7 286.3,430.3 295,425.9 303.8,421.5 312.5,418 321.3,415.4 330,413.6 338.8,411.9 347.5,409.3 356.3,406.6 365,406.6 373.8,407.5 382.6,409.3 391.3,412.8 398.75,416.3 407.5,419.8 416.3,421.5 425,422.9 442.5,422.9 460,425 468.8,425.9 477.6,425.9 486.3,424.2 495,419.8 507.3,414.2"/>
<polyline fill="none" stroke="#d8d8d8" stroke-width="1.05" stroke-linejoin="round" points="0,456.9 18.5,455 37,454 46,455 55.5,453.7 64.8,452.2 74,451.3 87,451.3 102,444.8 115,443.5 130,443 147.5,440.8 165,437.3 182.5,435.2 191.3,435.5 208.8,438.2 226.3,439.9 243.8,442.2 252.6,439.9 261.3,436.4 268.8,432 277.5,423.3 284.5,412.8 295,408.4 302,407.2 310.8,402.6 317.8,404 326.5,407.5 335.3,406.6 342.3,402.3 351,398.4 359.8,400.5 368.6,406.6 379,416.3 389.6,425 400.5,432 409.3,432.4 416.3,429.4 425,425.9 433.8,423.3 442.5,424.5 451.3,425.9 460,428.2 468.8,428.5 477.6,425.9 486.3,420.6 493.3,411 500.3,400.5 507.3,397.4"/>
<polyline fill="none" stroke="#e0e000" stroke-width="1.05" stroke-linejoin="round" points="0,562.4 19.5,561 39,559 54.7,557.1 68.4,553.2 87.9,546.4 107.4,540.1 127,535.6 130,535 149.5,531.1 169,526.8 188.6,523.3 208,520 227.7,517 247.2,516.7 260,515.1 279.5,511.6 289.3,509.3 308.8,506.9 328.4,506.3 347.9,505.9 367.4,506.3 387,508.3 409.5,511.2 429,514.1 448.6,516.1 468,517 477.9,517 487.7,516.1 507.2,514.1"/>
<polyline fill="none" stroke="#d8d8d8" stroke-width="1.05" stroke-linejoin="round" points="0,563 9.8,561 29.3,555.7 45,553.2 52.7,549.9 64.5,538.5 78,528.4 86,526.4 95.7,519.6 105.5,519 117.2,520 130,522 144.6,522.5 159.3,517 169,515.1 180.8,511.2 192.5,509.3 202.3,511.2 210,510.2 227.7,512.2 243.3,513.5 251.1,508.9 260.5,507.3 271.7,502.4 284.4,496.6 291.3,497.5 303,500.5 307.9,499.1 316.6,501.8 325.4,506.3 336.2,506.3 344,503.8 351.8,503 359.6,504.4 367.4,506.9 381.1,514.1 390,518.6 405.6,524.5 419.3,522.5 433,519.6 454.5,519.6 474,520 483.75,516.7 493.5,510.8 501.3,507.3 507.2,506.3"/>
<line x1="484.4" y1="35.7" x2="497.5" y2="32.3" stroke="#a0a0a0" stroke-width="0.9" />
<path d="M494.2,31.2 L498,32.2 L495.2,34.6" fill="none" stroke="#a0a0a0" stroke-width="0.9"/>
<line x1="574.6" y1="20.6" x2="793.5" y2="20.6" stroke="#b80000" stroke-width="1.1" />
<line x1="574.6" y1="34.9" x2="793.5" y2="34.9" stroke="#b80000" stroke-width="1.1" />
<line x1="574.6" y1="105.1" x2="793.5" y2="105.1" stroke="#b80000" stroke-width="1.1" />
<line x1="574.6" y1="175.3" x2="793.5" y2="175.3" stroke="#b80000" stroke-width="1.1" />
<line x1="574.6" y1="245.3" x2="793.5" y2="245.3" stroke="#b80000" stroke-width="1.1" />
<line x1="574.6" y1="289.5" x2="793.5" y2="289.5" stroke="#b80000" stroke-width="1.1" />
<line x1="574.6" y1="304.4" x2="793.5" y2="304.4" stroke="#b80000" stroke-width="1.1" />
<line x1="574.6" y1="334.1" x2="793.5" y2="334.1" stroke="#b80000" stroke-width="1.1" />
<line x1="574.6" y1="376.8" x2="793.5" y2="376.8" stroke="#b80000" stroke-width="1.1" />
<line x1="574.6" y1="406.1" x2="793.5" y2="406.1" stroke="#b80000" stroke-width="1.1" />
<line x1="574.6" y1="462.5" x2="793.5" y2="462.5" stroke="#b80000" stroke-width="1.1" />
<rect x="575.2" y="290.1" width="218" height="13.7" fill="#1a1a1a" stroke="none" stroke-width="1" />
<line x1="574.6" y1="289.5" x2="793.5" y2="289.5" stroke="#b80000" stroke-width="1.1" />
<line x1="574.6" y1="304.4" x2="793.5" y2="304.4" stroke="#b80000" stroke-width="1.1" />
<rect x="617.5" y="77.5" width="67" height="12.5" fill="none" stroke="#8a8a8a" stroke-width="1" />
<rect x="765" y="177.6" width="27.6" height="11" fill="none" stroke="#8a8a8a" stroke-width="1" />
<rect x="765" y="204.9" width="27.6" height="11" fill="none" stroke="#8a8a8a" stroke-width="1" />
<path d="M517,19.8 L520.6,23.4 L517,27 L513.4,23.4 Z" fill="none" stroke="#b0b0b0" stroke-width="1"/>
<rect x="526.5" y="19.8" width="7.5" height="7.2" fill="none" stroke="#b0b0b0" stroke-width="1" rx="1.5"/>
<line x1="531.5" y1="20.5" x2="531.5" y2="26.5" stroke="#b0b0b0" stroke-width="1.2" />
<ellipse cx="492.85" cy="41.95" rx="38.1" ry="11" fill="none" stroke="#2aa3f5" stroke-width="2.4"/>
<ellipse cx="498" cy="297.1" rx="17" ry="19.8" fill="none" stroke="#2aa3f5" stroke-width="2.4"/>
<polygon fill="#2aa3f5" points="164.72,115.69 447.76,51.32 448.41,54.05 456.7,45.7 445.54,41.98 446.18,44.71 164.48,114.71"/>
<polygon fill="#2aa3f5" points="177.76,126.74 468.54,289.71 467.05,292.43 478.7,292 472.84,281.92 471.34,284.63 178.24,125.86"/>
<path d="M511.67,579.61 A12.2,12.2 0 0 1 500.1,558.31 L504.6,566 L499.7,572.2" fill="none" stroke="rgba(222,222,222,0.93)" stroke-width="2.8" stroke-linecap="round" stroke-linejoin="round"/>
<path d="M503.94,556.52 A12.2,12.2 0 0 1 514.94,577.65 L508.9,570.6 L513.6,563.4" fill="none" stroke="rgba(222,222,222,0.93)" stroke-width="2.8" stroke-linecap="round" stroke-linejoin="round"/></svg>
<div style="position:absolute;left:796.6px;top:52.0px;width:4px;height:9.5px;border:1px solid #4a7ad8;border-right:none;background:#40b040;box-sizing:border-box"></div><div style="position:absolute;left:796.6px;top:68.8px;width:4px;height:9.5px;border:1px solid #4a7ad8;border-right:none;background:#e04040;box-sizing:border-box"></div><div style="position:absolute;left:796.6px;top:85.6px;width:4px;height:9.5px;border:1px solid #4a7ad8;border-right:none;background:#f4f4f4;box-sizing:border-box"></div><div style="position:absolute;left:796.6px;top:102.4px;width:4px;height:9.5px;border:1px solid #4a7ad8;border-right:none;background:#e03030;box-sizing:border-box"></div><div style="position:absolute;left:796.6px;top:119.2px;width:4px;height:9.5px;border:1px solid #4a7ad8;border-right:none;background:#a0a0a0;box-sizing:border-box"></div><div style="position:absolute;left:796.6px;top:136.0px;width:4px;height:9.5px;border:1px solid #4a7ad8;border-right:none;background:#7090e0;box-sizing:border-box"></div><div style="position:absolute;left:796.6px;top:152.8px;width:4px;height:9.5px;border:1px solid #4a7ad8;border-right:none;background:#e0a030;box-sizing:border-box"></div><div style="position:absolute;left:796.6px;top:169.60000000000002px;width:4px;height:9.5px;border:1px solid #4a7ad8;border-right:none;background:#f4f4f4;box-sizing:border-box"></div><div style="position:absolute;left:796.6px;top:186.4px;width:4px;height:9.5px;border:1px solid #4a7ad8;border-right:none;background:#7090e0;box-sizing:border-box"></div><div style="position:absolute;left:796.6px;top:203.20000000000002px;width:4px;height:9.5px;border:1px solid #40a070;border-right:none;background:#f4f4f4;box-sizing:border-box"></div><div style="position:absolute;left:796.6px;top:220.0px;width:4px;height:9.5px;border:1px solid #4a7ad8;border-right:none;background:#f4f4f4;box-sizing:border-box"></div><div style="position:absolute;left:796.6px;top:240px;width:4px;height:9.5px;border:1px solid #4a7ad8;border-right:none;background:#e06060;box-sizing:border-box"></div><div style="position:absolute;left:796.6px;top:331.5px;width:4px;height:9.5px;border:1px solid #4a7ad8;border-right:none;background:#f4f4f4;box-sizing:border-box"></div><div style="position:absolute;left:796.6px;top:348px;width:4px;height:9.5px;border:1px solid #40a070;border-right:none;background:#80c0e0;box-sizing:border-box"></div><div style="position:absolute;left:794px;top:234px;width:6px;height:1px;background:#b0b0b0"></div><div style="position:absolute;left:794px;top:322px;width:6px;height:1px;background:#b0b0b0"></div><div style="position:absolute;left:795.5px;top:440px;width:4.5px;height:17px;border:1px solid #a0a0a0;border-right:none;background:#fff;box-sizing:border-box"></div><div style="position:absolute;left:796px;top:2px;font:bold 9px/10px 'Liberation Sans',sans-serif;color:#3a6ad0">‹</div><div style="position:absolute;left:796px;top:16px;font:bold 9px/10px 'Liberation Sans',sans-serif;color:#3a6ad0">▴</div><div style="position:absolute;left:796px;top:36px;font:bold 9px/10px 'Liberation Sans',sans-serif;color:#3a6ad0">▾</div><div style="position:absolute;left:796px;top:256px;font:bold 9px/10px 'Liberation Sans',sans-serif;color:#2050c0">F</div><div style="position:absolute;left:796px;top:275px;font:bold 9px/10px 'Liberation Sans',sans-serif;color:#d03030">S</div><div style="position:absolute;left:796px;top:291px;font:bold 9px/10px 'Liberation Sans',sans-serif;color:#2050c0">◂</div><div style="position:absolute;left:796px;top:308px;font:bold 9px/10px 'Liberation Sans',sans-serif;color:#c08030">▴</div><div style="position:absolute;left:796px;top:395px;font:bold 9px/10px 'Liberation Sans',sans-serif;color:#3a6ad0">▴</div><div style="position:absolute;left:796px;top:411px;font:bold 9px/10px 'Liberation Sans',sans-serif;color:#3a6ad0">▾</div><div style="position:absolute;left:796px;top:428px;font:bold 9px/10px 'Liberation Sans',sans-serif;color:#2050c0">6</div><div style="position:absolute;left:796px;top:457px;font:bold 9px/10px 'Liberation Sans',sans-serif;color:#3a6ad0">▴</div><div style="position:absolute;left:796px;top:498px;font:bold 9px/10px 'Liberation Sans',sans-serif;color:#3a6ad0">▴</div><div style="position:absolute;left:796px;top:511px;font:bold 9px/10px 'Liberation Sans',sans-serif;color:#3a6ad0">E</div><div style="position:absolute;left:796px;top:529px;font:bold 9px/10px 'Liberation Sans',sans-serif;color:#3a6ad0">▾</div>
<div class="t c" style="left:298.7px;width:120px;top:2.8px;color:#d6d6d6;font-size:10px;">复权</div>
<div class="t c" style="left:323.1px;width:120px;top:2.8px;color:#d6d6d6;font-size:10px;">叠加</div>
<div class="t c" style="left:348.45px;width:120px;top:2.8px;color:#d6d6d6;font-size:10px;">历史</div>
<div class="t c" style="left:374px;width:120px;top:2.8px;color:#d6d6d6;font-size:10px;">统计</div>
<div class="t c" style="left:399.05px;width:120px;top:2.8px;color:#d6d6d6;font-size:10px;">画线</div>
<div class="t c" style="left:424.65px;width:120px;top:2.8px;color:#d6d6d6;font-size:10px;">F10</div>
<div class="t c" style="left:450.05px;width:120px;top:2.8px;color:#d6d6d6;font-size:10px;">标记</div>
<div class="t c" style="left:474.85px;width:120px;top:2.8px;color:#d6d6d6;font-size:10px;">·自选</div>
<div class="t c" style="left:501px;width:120px;top:2.8px;color:#d6d6d6;font-size:10px;">返回</div>
<div class="t" style="left:598.6px;top:4.6px;font-size:10.9px;color:#f0f000;font-weight:bold;font-family:'Liberation Sans',sans-serif;letter-spacing:-0.1px">603616</div>
<div class="t" style="left:635.2px;top:5.3px;font-size:12px;color:#10d0e0;letter-spacing:-0.6px">韩建河山</div>
<div class="t" style="left:576.2px;top:21.56px;color:#d6d6d6;font-size:12px;">委比</div>
<div class="t" style="right:118.8px;top:21.35px;color:#00e800;font-size:10.4px;font-family:'Liberation Sans',sans-serif;font-weight:bold;font-size:10.4px;letter-spacing:-0.2px;">-100.00%</div>
<div class="t" style="left:686.2px;top:21.56px;color:#d6d6d6;font-size:12px;">委差</div>
<div class="t" style="right:8.7px;top:21.6px;font-size:12px;color:#00e800"><span style="font-family:'Liberation Sans',sans-serif;font-weight:bold;font-size:10.4px;letter-spacing:-0.2px;">-10</span>万</div>
<div class="t" style="left:576.2px;top:36.76px;color:#d6d6d6;font-size:12px;">卖五</div>
<div class="t" style="right:118.8px;top:36.55px;color:#00e800;font-size:10.4px;font-family:'Liberation Sans',sans-serif;font-weight:bold;font-size:10.4px;letter-spacing:-0.2px;">10.61</div>
<div class="t" style="right:8.7px;top:36.55px;color:#e2e200;font-size:10.4px;font-family:'Liberation Sans',sans-serif;font-weight:bold;font-size:10.4px;letter-spacing:-0.2px;">35</div>
<div class="t" style="left:576.2px;top:50.66px;color:#d6d6d6;font-size:12px;">卖四</div>
<div class="t" style="right:118.8px;top:50.45px;color:#00e800;font-size:10.4px;font-family:'Liberation Sans',sans-serif;font-weight:bold;font-size:10.4px;letter-spacing:-0.2px;">10.60</div>
<div class="t" style="right:8.7px;top:50.45px;color:#e2e200;font-size:10.4px;font-family:'Liberation Sans',sans-serif;font-weight:bold;font-size:10.4px;letter-spacing:-0.2px;">700</div>
<div class="t" style="left:576.2px;top:64.46px;color:#d6d6d6;font-size:12px;">卖三</div>
<div class="t" style="right:118.8px;top:64.25px;color:#00e800;font-size:10.4px;font-family:'Liberation Sans',sans-serif;font-weight:bold;font-size:10.4px;letter-spacing:-0.2px;">10.59</div>
<div class="t" style="right:8.7px;top:64.25px;color:#e2e200;font-size:10.4px;font-family:'Liberation Sans',sans-serif;font-weight:bold;font-size:10.4px;letter-spacing:-0.2px;">292</div>
<div class="t" style="left:576.2px;top:78.26px;color:#d6d6d6;font-size:12px;">卖二</div>
<div class="t" style="right:118.8px;top:78.05px;color:#00e800;font-size:10.4px;font-family:'Liberation Sans',sans-serif;font-weight:bold;font-size:10.4px;letter-spacing:-0.2px;">10.58</div>
<div class="t" style="right:8.7px;top:78.05px;color:#e2e200;font-size:10.4px;font-family:'Liberation Sans',sans-serif;font-weight:bold;font-size:10.4px;letter-spacing:-0.2px;">704</div>
<div class="t" style="left:576.2px;top:92.06px;color:#d6d6d6;font-size:12px;">卖一</div>
<div class="t" style="right:118.8px;top:91.85px;color:#00e800;font-size:10.4px;font-family:'Liberation Sans',sans-serif;font-weight:bold;font-size:10.4px;letter-spacing:-0.2px;">10.57</div>
<div class="t" style="right:8.7px;top:91.85px;color:#e2e200;font-size:10.4px;font-family:'Liberation Sans',sans-serif;font-weight:bold;font-size:10.4px;letter-spacing:-0.2px;">99981</div>
<div class="t" style="left:576.2px;top:106.46px;color:#d6d6d6;font-size:12px;">买一</div>
<div class="t" style="left:576.2px;top:120.26px;color:#d6d6d6;font-size:12px;">买二</div>
<div class="t" style="left:576.2px;top:133.96px;color:#d6d6d6;font-size:12px;">买三</div>
<div class="t" style="left:576.2px;top:147.76px;color:#d6d6d6;font-size:12px;">买四</div>
<div class="t" style="left:576.2px;top:161.36px;color:#d6d6d6;font-size:12px;">买五</div>
<div class="t" style="left:576.2px;top:178.06px;color:#d6d6d6;font-size:12px;">现价</div>
<div class="t" style="right:118.8px;top:177.85px;color:#00e800;font-size:10.4px;font-family:'Liberation Sans',sans-serif;font-weight:bold;font-size:10.4px;letter-spacing:-0.2px;">10.57</div>
<div class="t" style="left:686.2px;top:178.06px;color:#d6d6d6;font-size:12px;">今开</div>
<div class="t" style="right:8.7px;top:177.85px;color:#00e800;font-size:10.4px;font-family:'Liberation Sans',sans-serif;font-weight:bold;font-size:10.4px;letter-spacing:-0.2px;">10.57</div>
<div class="t" style="left:576.2px;top:191.76px;color:#d6d6d6;font-size:12px;">涨跌</div>
<div class="t" style="right:118.8px;top:191.55px;color:#00e800;font-size:10.4px;font-family:'Liberation Sans',sans-serif;font-weight:bold;font-size:10.4px;letter-spacing:-0.2px;">-1.17</div>
<div class="t" style="left:686.2px;top:191.76px;color:#d6d6d6;font-size:12px;">最高</div>
<div class="t" style="right:8.7px;top:191.55px;color:#00e800;font-size:10.4px;font-family:'Liberation Sans',sans-serif;font-weight:bold;font-size:10.4px;letter-spacing:-0.2px;">10.98</div>
<div class="t" style="left:576.2px;top:205.46px;color:#d6d6d6;font-size:12px;">涨幅</div>
<div class="t" style="right:118.8px;top:205.25px;color:#00e800;font-size:10.4px;font-family:'Liberation Sans',sans-serif;font-weight:bold;font-size:10.4px;letter-spacing:-0.2px;">-9.97%</div>
<div class="t" style="left:686.2px;top:205.46px;color:#d6d6d6;font-size:12px;">最低</div>
<div class="t" style="right:8.7px;top:205.25px;color:#00e800;font-size:10.4px;font-family:'Liberation Sans',sans-serif;font-weight:bold;font-size:10.4px;letter-spacing:-0.2px;">10.57</div>
<div class="t" style="left:576.2px;top:219.16px;color:#d6d6d6;font-size:12px;">总量</div>
<div class="t" style="right:118.8px;top:218.95px;color:#e2e200;font-size:10.4px;font-family:'Liberation Sans',sans-serif;font-weight:bold;font-size:10.4px;letter-spacing:-0.2px;">789848</div>
<div class="t" style="left:686.2px;top:219.16px;color:#d6d6d6;font-size:12px;">量比</div>
<div class="t" style="right:8.7px;top:218.95px;color:#ff2020;font-size:10.4px;font-family:'Liberation Sans',sans-serif;font-weight:bold;font-size:10.4px;letter-spacing:-0.2px;">1.02</div>
<div class="t" style="left:576.2px;top:232.86px;color:#d6d6d6;font-size:12px;">外盘</div>
<div class="t" style="right:118.8px;top:232.65px;color:#ff2020;font-size:10.4px;font-family:'Liberation Sans',sans-serif;font-weight:bold;font-size:10.4px;letter-spacing:-0.2px;">504552</div>
<div class="t" style="left:686.2px;top:232.86px;color:#d6d6d6;font-size:12px;">内盘</div>
<div class="t" style="right:8.7px;top:232.65px;color:#00e800;font-size:10.4px;font-family:'Liberation Sans',sans-serif;font-weight:bold;font-size:10.4px;letter-spacing:-0.2px;">285296</div>
<div class="t" style="left:576.2px;top:247.46px;color:#d6d6d6;font-size:12px;">换手</div>
<div class="t" style="right:118.8px;top:247.25px;color:#d6d6d6;font-size:10.4px;font-family:'Liberation Sans',sans-serif;font-weight:bold;font-size:10.4px;letter-spacing:-0.2px;">20.71%</div>
<div class="t" style="left:686.2px;top:247.46px;color:#d6d6d6;font-size:12px;">股本</div>
<div class="t" style="right:8.7px;top:247.5px;font-size:12px;color:#d6d6d6"><span style="font-family:'Liberation Sans',sans-serif;font-weight:bold;font-size:10.4px;letter-spacing:-0.2px;">3.81</span>亿</div>
<div class="t" style="left:576.2px;top:261.06px;color:#d6d6d6;font-size:12px;">净资</div>
<div class="t" style="right:118.8px;top:260.85px;color:#d6d6d6;font-size:10.4px;font-family:'Liberation Sans',sans-serif;font-weight:bold;font-size:10.4px;letter-spacing:-0.2px;">2.92</div>
<div class="t" style="left:686.2px;top:261.06px;color:#d6d6d6;font-size:12px;">流通</div>
<div class="t" style="right:8.7px;top:261.1px;font-size:12px;color:#d6d6d6"><span style="font-family:'Liberation Sans',sans-serif;font-weight:bold;font-size:10.4px;letter-spacing:-0.2px;">3.81</span>亿</div>
<div class="t" style="left:576.2px;top:274.66px;color:#d6d6d6;font-size:12px;">收益㈢</div>
<div class="t" style="right:118.8px;top:274.45px;color:#d6d6d6;font-size:10.4px;font-family:'Liberation Sans',sans-serif;font-weight:bold;font-size:10.4px;letter-spacing:-0.2px;">0.130</div>
<div class="t" style="left:686.2px;top:274.66px;color:#d6d6d6;font-size:12px;">PE(动)</div>
<div class="t" style="right:8.7px;top:274.45px;color:#d6d6d6;font-size:10.4px;font-family:'Liberation Sans',sans-serif;font-weight:bold;font-size:10.4px;letter-spacing:-0.2px;">75.4</div>
<div class="t" style="left:576.2px;top:291.66px;color:#d6d6d6;font-size:12px;">沪市品种</div>
<div class="t" style="right:9.5px;top:291.66px;color:#d6d6d6;font-size:12px;">相关数据仅供参考</div>
<div class="t" style="left:576.2px;top:307.46px;color:#d6d6d6;font-size:12px;">涨停价</div>
<div class="t" style="right:8.7px;top:307.25px;color:#ff2020;font-size:10.4px;font-family:'Liberation Sans',sans-serif;font-weight:bold;font-size:10.4px;letter-spacing:-0.2px;">12.91</div>
<div class="t" style="left:576.2px;top:321.26px;color:#d6d6d6;font-size:12px;">跌停价</div>
<div class="t" style="right:8.7px;top:321.05px;color:#00e800;font-size:10.4px;font-family:'Liberation Sans',sans-serif;font-weight:bold;font-size:10.4px;letter-spacing:-0.2px;">10.57</div>
<div class="t" style="left:576.2px;top:336.76px;color:#d6d6d6;font-size:12px;">明日涨跌停(不考虑价格调整等)</div>
<div class="t" style="left:576.2px;top:350.46px;color:#d6d6d6;font-size:12px;">明日涨停价(参考)</div>
<div class="t" style="right:8.7px;top:350.25px;color:#ff2020;font-size:10.4px;font-family:'Liberation Sans',sans-serif;font-weight:bold;font-size:10.4px;letter-spacing:-0.2px;">11.63</div>
<div class="t" style="left:576.2px;top:364.06px;color:#d6d6d6;font-size:12px;">明日跌停价(参考)</div>
<div class="t" style="right:8.7px;top:363.85px;color:#00e800;font-size:10.4px;font-family:'Liberation Sans',sans-serif;font-weight:bold;font-size:10.4px;letter-spacing:-0.2px;">9.51</div>
<div class="t" style="left:576.2px;top:378.86px;color:#d6d6d6;font-size:12px;">封单额</div>
<div class="t" style="right:8.7px;top:378.9px;font-size:12px;color:#00e800"><span style="font-family:'Liberation Sans',sans-serif;font-weight:bold;font-size:10.4px;letter-spacing:-0.2px;">1.06</span>亿</div>
<div class="t" style="left:576.2px;top:392.66px;color:#d6d6d6;font-size:12px;">封成比</div>
<div class="t" style="right:8.7px;top:392.45px;color:#00e800;font-size:10.4px;font-family:'Liberation Sans',sans-serif;font-weight:bold;font-size:10.4px;letter-spacing:-0.2px;">0.13</div>
<div class="t" style="left:576.2px;top:408.46px;color:#d6d6d6;font-size:12px;">细分行业</div>
<div class="t" style="right:8.7px;top:408.46px;color:#e2e200;font-size:12px;">其他建材</div>
<div class="t" style="left:576.2px;top:422.26px;color:#d6d6d6;font-size:12px;">AB股总市值</div>
<div class="t" style="right:8.7px;top:422.3px;font-size:12px;color:#d6d6d6"><span style="font-family:'Liberation Sans',sans-serif;font-weight:bold;font-size:10.4px;letter-spacing:-0.2px;">40.3</span>亿</div>
<div class="t" style="left:576.2px;top:435.86px;color:#d6d6d6;font-size:12px;">流通市值</div>
<div class="t" style="right:8.7px;top:435.9px;font-size:12px;color:#d6d6d6"><span style="font-family:'Liberation Sans',sans-serif;font-weight:bold;font-size:10.4px;letter-spacing:-0.2px;">40.3</span>亿</div>
<div class="t" style="left:576.2px;top:449.46px;color:#d6d6d6;font-size:12px;">自由流通市值</div>
<div class="t" style="right:8.7px;top:449.5px;font-size:12px;color:#d6d6d6"><span style="font-family:'Liberation Sans',sans-serif;font-weight:bold;font-size:10.4px;letter-spacing:-0.2px;">18.1</span>亿</div>
<div class="t" style="left:576.2px;top:464.66px;color:#d6d6d6;font-size:12px;">人均市值</div>
<div class="t" style="right:8.7px;top:464.7px;font-size:12px;color:#d6d6d6"><span style="font-family:'Liberation Sans',sans-serif;font-weight:bold;font-size:10.4px;letter-spacing:-0.2px;">7.64</span>万</div>
<div class="t" style="left:576.2px;top:478.36px;color:#d6d6d6;font-size:12px;">人均持股</div>
<div class="t" style="right:8.7px;top:478.15px;color:#d6d6d6;font-size:10.4px;font-family:'Liberation Sans',sans-serif;font-weight:bold;font-size:10.4px;letter-spacing:-0.2px;">7228</div>
<div class="t" style="left:576.2px;top:492.06px;color:#d6d6d6;font-size:12px;">总资产</div>
<div class="t" style="right:8.7px;top:492.1px;font-size:12px;color:#d6d6d6"><span style="font-family:'Liberation Sans',sans-serif;font-weight:bold;font-size:10.4px;letter-spacing:-0.2px;">24.59</span>亿</div>
<div class="t" style="left:576.2px;top:505.76px;color:#d6d6d6;font-size:12px;">净资产</div>
<div class="t" style="right:8.7px;top:505.8px;font-size:12px;color:#d6d6d6"><span style="font-family:'Liberation Sans',sans-serif;font-weight:bold;font-size:10.4px;letter-spacing:-0.2px;">11.15</span>亿</div>
<div class="t" style="left:576.2px;top:519.46px;color:#d6d6d6;font-size:12px;">资本公积金</div>
<div class="t" style="right:8.7px;top:519.5px;font-size:12px;color:#d6d6d6"><span style="font-family:'Liberation Sans',sans-serif;font-weight:bold;font-size:10.4px;letter-spacing:-0.2px;">4.93</span>亿</div>
<div class="t" style="left:576.2px;top:533.26px;color:#d6d6d6;font-size:12px;">市盈(TTM)</div>
<div class="t" style="right:8.7px;top:533.05px;color:#d6d6d6;font-size:10.4px;font-family:'Liberation Sans',sans-serif;font-weight:bold;font-size:10.4px;letter-spacing:-0.2px;">36.77</div>
<div class="t" style="left:576.2px;top:546.96px;color:#d6d6d6;font-size:12px;">市盈(静)</div>
<div class="t" style="right:8.7px;top:546.75px;color:#d6d6d6;font-size:10.4px;font-family:'Liberation Sans',sans-serif;font-weight:bold;font-size:10.4px;letter-spacing:-0.2px;">157.24</div>
<div class="t" style="left:576.2px;top:560.76px;color:#d6d6d6;font-size:12px;">扣非净利</div>
<div class="t" style="right:8.7px;top:560.8px;font-size:12px;color:#d6d6d6"><span style="font-family:'Liberation Sans',sans-serif;font-weight:bold;font-size:10.4px;letter-spacing:-0.2px;">3456</span>万</div>
<div class="t" style="left:576.2px;top:574.46px;color:#d6d6d6;font-size:12px;">投资收益</div>
<div class="t" style="right:8.7px;top:574.5px;font-size:12px;color:#d6d6d6"><span style="font-family:'Liberation Sans',sans-serif;font-weight:bold;font-size:10.4px;letter-spacing:-0.2px;">-379.7</span>万</div>
<div class="t" style="left:576.2px;top:588.16px;color:#d6d6d6;font-size:12px;">研发费用</div>
<div class="t" style="right:8.7px;top:588.2px;font-size:12px;color:#d6d6d6"><span style="font-family:'Liberation Sans',sans-serif;font-weight:bold;font-size:10.4px;letter-spacing:-0.2px;">918.3</span>万</div>
<div class="t" style="right:229.5px;top:52.4px;color:#ff3030;font-family:'Liberation Sans',sans-serif;font-size:9.4px;letter-spacing:-0.25px;">11.00</div>
<div class="t" style="right:229.5px;top:87.3px;color:#ff3030;font-family:'Liberation Sans',sans-serif;font-size:9.4px;letter-spacing:-0.25px;">10.00</div>
<div class="t" style="right:229.5px;top:121.9px;color:#ff3030;font-family:'Liberation Sans',sans-serif;font-size:9.4px;letter-spacing:-0.25px;">9.00</div>
<div class="t" style="right:229.5px;top:156.7px;color:#ff3030;font-family:'Liberation Sans',sans-serif;font-size:9.4px;letter-spacing:-0.25px;">8.00</div>
<div class="t" style="right:229.5px;top:191.4px;color:#ff3030;font-family:'Liberation Sans',sans-serif;font-size:9.4px;letter-spacing:-0.25px;">7.00</div>
<div class="t" style="right:229.5px;top:225.5px;color:#ff3030;font-family:'Liberation Sans',sans-serif;font-size:9.4px;letter-spacing:-0.25px;">6.00</div>
<div class="t" style="right:229.5px;top:260.1px;color:#ff3030;font-family:'Liberation Sans',sans-serif;font-size:9.4px;letter-spacing:-0.25px;">5.00</div>
<div class="t" style="right:229.5px;top:298.3px;color:#ff3030;font-family:'Liberation Sans',sans-serif;font-size:9.4px;letter-spacing:-0.25px;">10000</div>
<div class="t" style="right:229.5px;top:318.1px;color:#ff3030;font-family:'Liberation Sans',sans-serif;font-size:9.4px;letter-spacing:-0.25px;">7500</div>
<div class="t" style="right:229.5px;top:336.8px;color:#ff3030;font-family:'Liberation Sans',sans-serif;font-size:9.4px;letter-spacing:-0.25px;">5000</div>
<div class="t" style="right:229.5px;top:412.7px;color:#ff3030;font-family:'Liberation Sans',sans-serif;font-size:9.4px;letter-spacing:-0.25px;">0.50</div>
<div class="t" style="right:229.5px;top:490.3px;color:#ff3030;font-family:'Liberation Sans',sans-serif;font-size:9.4px;letter-spacing:-0.25px;">80.00</div>
<div class="t" style="right:229.5px;top:524px;color:#ff3030;font-family:'Liberation Sans',sans-serif;font-size:9.4px;letter-spacing:-0.25px;">50.00</div>
<div class="t" style="right:229.5px;top:558.5px;color:#ff3030;font-family:'Liberation Sans',sans-serif;font-size:9.4px;letter-spacing:-0.25px;">20.00</div>
<div class="t" style="left:539px;top:372.5px;color:#ff3030;font-family:'Liberation Sans',sans-serif;font-size:9.4px;letter-spacing:-0.25px;font-size:10.5px">X100</div>
<div class="t" style="left:546.5px;top:570.3px;color:#e0e0e0;font-size:10px">日线</div>
<div class="t" style="left:62.3px;top:570.6px;color:#ff3030;font-family:'Liberation Sans',sans-serif;font-size:9.4px;letter-spacing:-0.25px;">12</div>
<div class="t" style="left:252.3px;top:570.6px;color:#ff3030;font-family:'Liberation Sans',sans-serif;font-size:9.4px;letter-spacing:-0.25px;">1</div>
<div class="t" style="left:410.8px;top:570.6px;color:#ff3030;font-family:'Liberation Sans',sans-serif;font-size:9.4px;letter-spacing:-0.25px;">2</div>
<div class="t" style="left:-3px;top:581.6px;color:#d6d6d6;font-size:11.6px;letter-spacing:-0.3px;transform:scaleX(0.78);transform-origin:0 0">CST</div>
<div class="t" style="left:20.8px;top:581.6px;color:#d6d6d6;font-size:11.6px;letter-spacing:-0.3px;transform:scaleX(0.66);transform-origin:0 0">MA</div>
<div class="t" style="left:36.8px;top:582.2px;color:#d6d6d6;font-size:9.8px;letter-spacing:-0.3px;transform:scaleX(1);transform-origin:0 0">更多</div>
<div class="t" style="left:60.2px;top:582.2px;color:#10d890;font-size:9.8px;letter-spacing:-0.3px;transform:scaleX(1);transform-origin:0 0">设置</div>
<div class="t" style="left:486.5px;top:582.2px;color:#d6d6d6;font-size:9.8px;letter-spacing:-0.3px;transform:scaleX(1);transform-origin:0 0">指标B</div>
<div class="t" style="left:513.5px;top:582.2px;color:#d6d6d6;font-size:9.8px;letter-spacing:-0.3px;transform:scaleX(1);transform-origin:0 0">模 板</div>
<div class="t" style="left:543.5px;top:582.2px;color:#d6d6d6;font-size:9.8px;letter-spacing:-0.3px;transform:scaleX(1);transform-origin:0 0">+</div>
<div class="t" style="left:561.5px;top:582.2px;color:#d6d6d6;font-size:9.8px;letter-spacing:-0.3px;transform:scaleX(1);transform-origin:0 0">−</div>
<div class="t box" style="left:354px;top:266.8px;width:9px;height:9px;background:#10b020;font-size:8px;line-height:9px;color:#fff;text-align:center">跌</div>
<div class="t box" style="left:486.7px;top:266.9px;width:8.3px;height:8.8px;background:#10a020;font-size:8px;line-height:9px;color:#fff;text-align:center">减</div>
<div class="t box" style="left:495px;top:266.9px;width:9px;height:8.8px;background:#b06020;font-size:8px;line-height:9px;color:#fff;text-align:center">榜</div>
<div class="t" style="left:461px;top:30.5px;color:#b0b0b0;font-family:'Liberation Sans',sans-serif;font-size:10px">11.74</div>
<div class="t" style="left:43px;top:88.4px;color:#ff1c1c;font-size:15.2px;line-height:20.2px;white-space:pre;letter-spacing:0">高位超高的换手率
背后基本都不是
好事</div>
<div class="t" style="left:525.5px;top:554.2px;color:rgba(224,224,224,0.95);font-size:24.4px;line-height:28px;letter-spacing:0;transform:scaleY(0.9);font-weight:500">雪球</div>
<div class="t" style="left:574.5px;top:553.3px;color:rgba(224,224,224,0.95);font-size:23.2px;line-height:28px;letter-spacing:-1px;transform:scaleY(0.92);font-weight:500"><span style="font-family:'Noto Sans CJK JP',sans-serif">：</span>交易需要集大成者</div>
</body></html>
